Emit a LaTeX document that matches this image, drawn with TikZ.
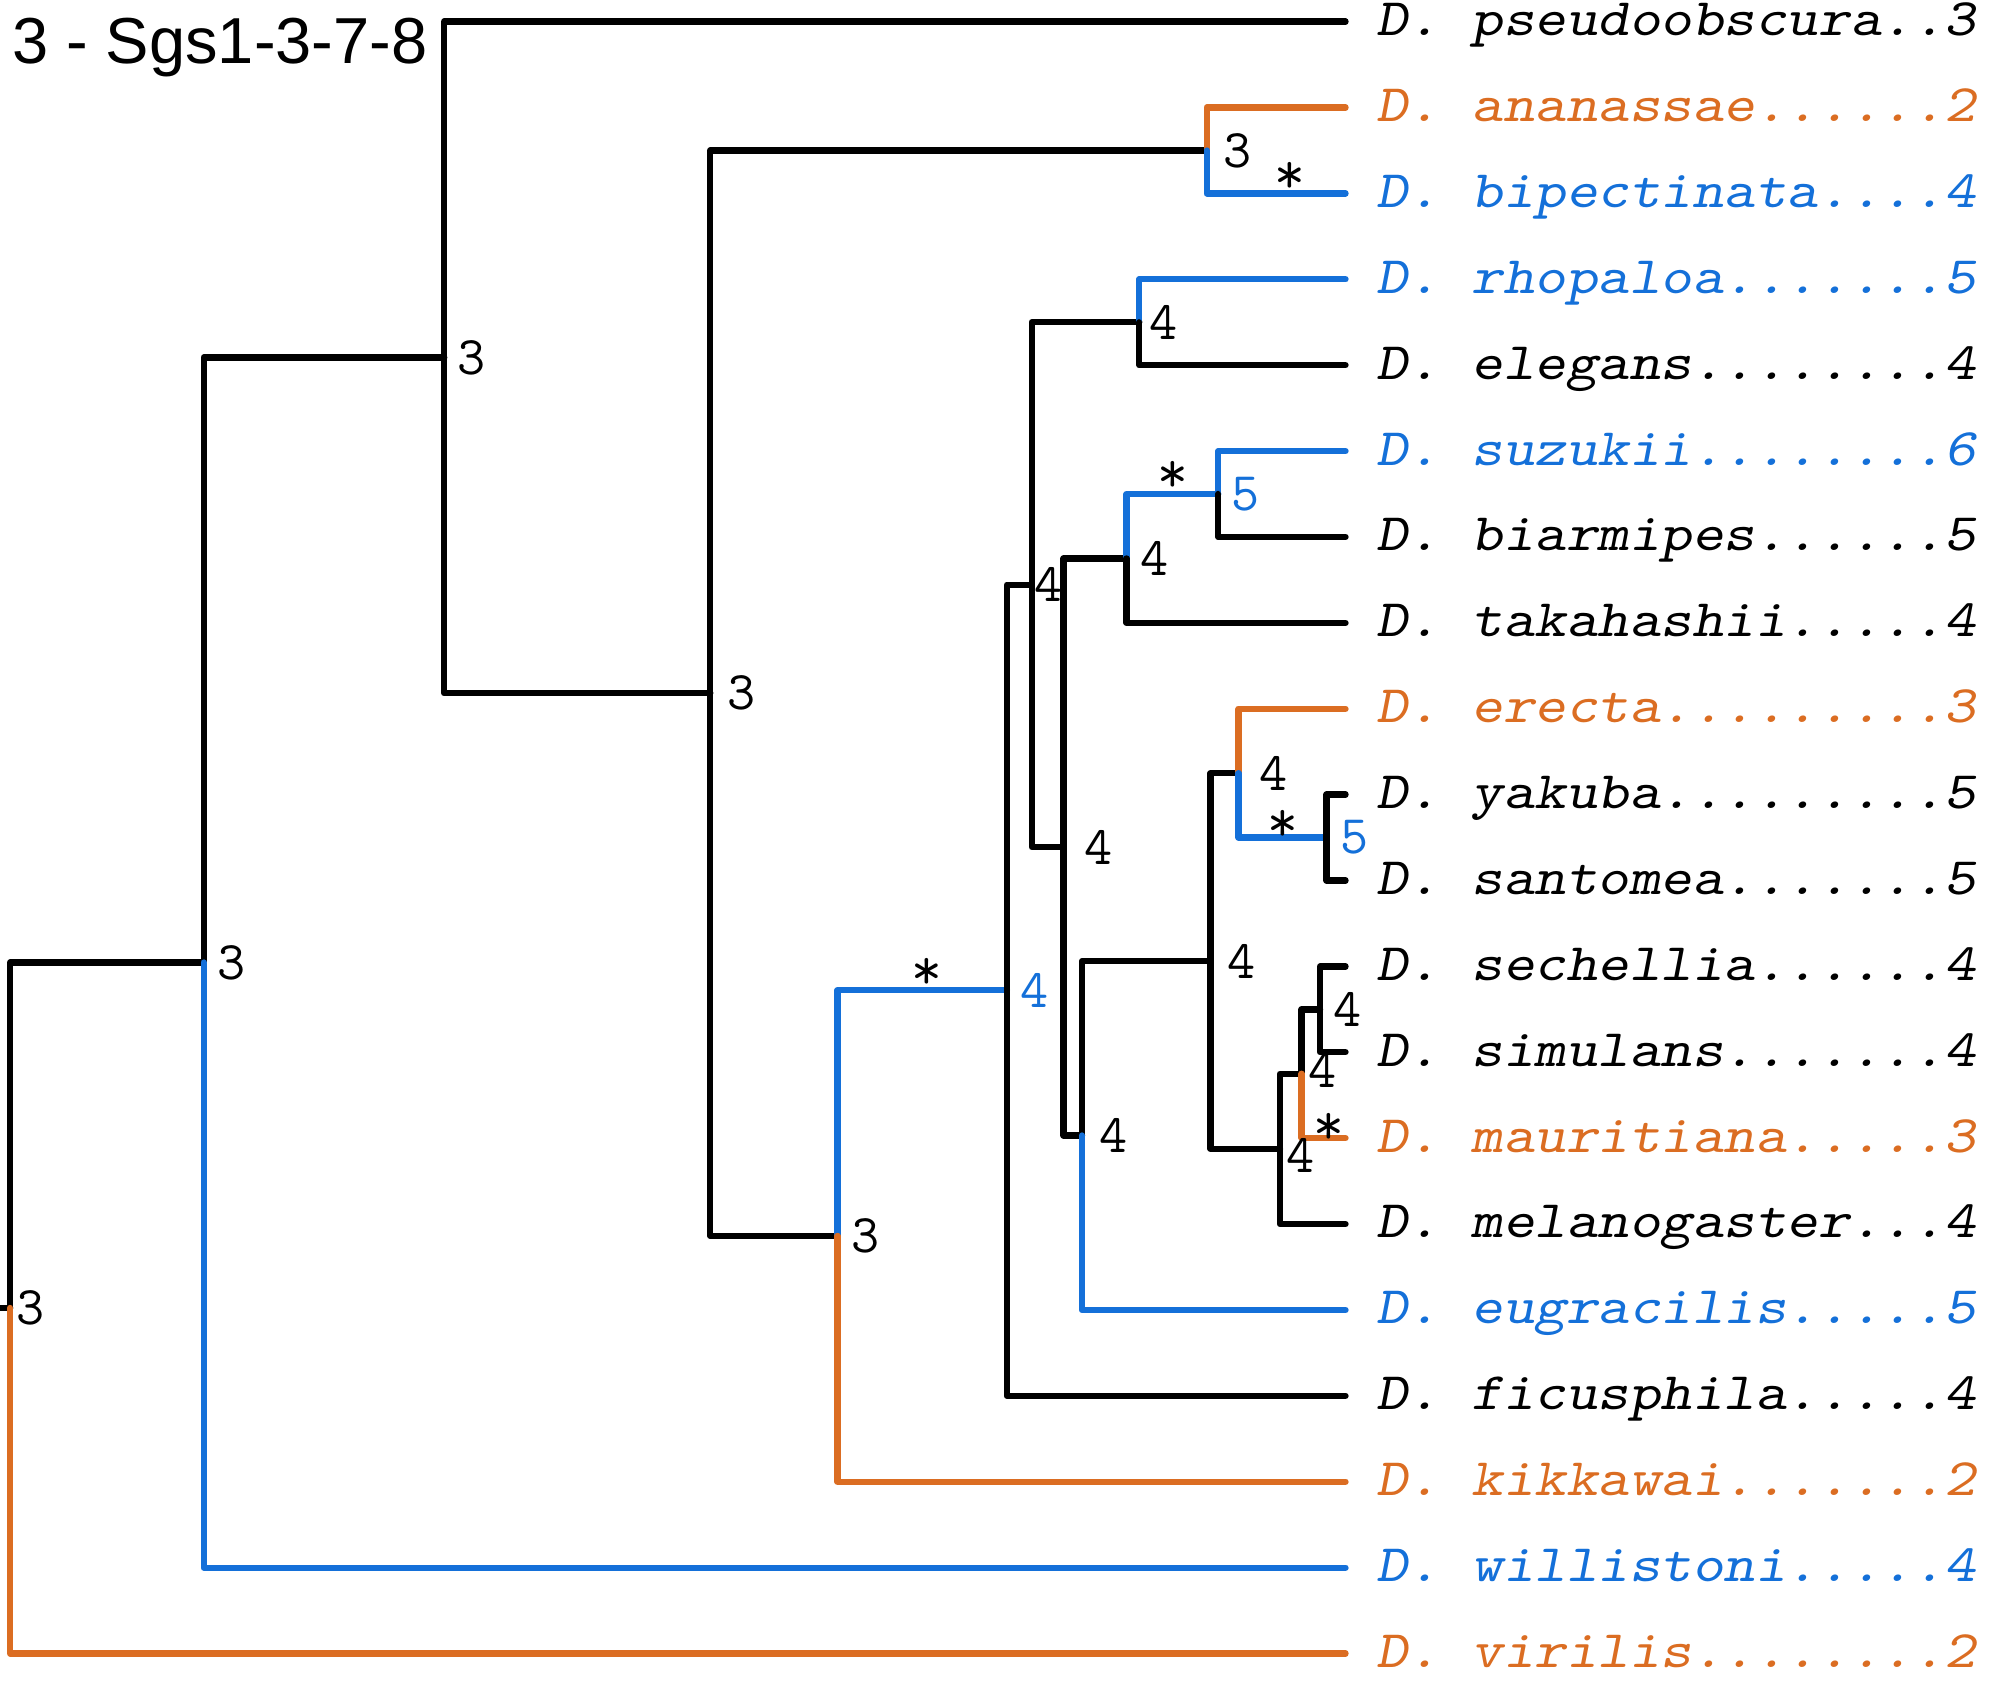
\documentclass[tikz,border=0pt]{standalone}
\usepackage{fontspec}
\usepackage{graphicx}
\usetikzlibrary{positioning}
\newfontfamily\titlefont{Liberation Sans}
\definecolor{orng}{RGB}{219,109,34}
\definecolor{blu}{RGB}{20,112,217}
\newcommand{\lbl}[1]{\scalebox{1.14}[1]{#1}}

\begin{document}
\begin{tikzpicture}[x=0.1273mm,y=-0.1273mm,line width=1.8pt,line cap=round,line join=round,
	every edge/.style={draw,to path={|- (\tikztotarget)}},
	bro/.style={draw=orng},brb/.style={draw=blu},
	leaf/.style={anchor=mid west,yshift=-1.8pt,inner sep=0pt,font=\fontsize{15}{17}\selectfont\ttfamily\slshape},
	num/.style={anchor=west,inner sep=0pt,font=\fontsize{15.5}{17}\selectfont\ttfamily},
	star/.style={inner sep=0pt,font=\fontsize{17}{19}\selectfont\ttfamily}]
	\useasboundingbox (0,0) rectangle (1568,1324);
	\node[anchor=base west,inner sep=0pt,font=\titlefont\fontsize{18.5}{22}\selectfont] (title) at (7,49.5) {3 - Sgs1-3-7-8};
	% leaves
	\coordinate (pse) at (1057,17);
	\coordinate (ana) at (1057,84.5);
	\coordinate (bip) at (1057,151.9);
	\coordinate (rho) at (1057,219.4);
	\coordinate (ele) at (1057,286.9);
	\coordinate (suz) at (1057,354.4);
	\coordinate (bia) at (1057,421.8);
	\coordinate (tak) at (1057,489.3);
	\coordinate (ere) at (1057,556.8);
	\coordinate (yak) at (1057,624.2);
	\coordinate (san) at (1057,691.7);
	\coordinate (sec) at (1057,759.2);
	\coordinate (sim) at (1057,826.6);
	\coordinate (mau) at (1057,894.1);
	\coordinate (mel) at (1057,961.6);
	\coordinate (eug) at (1057,1029.1);
	\coordinate (fic) at (1057,1096.5);
	\coordinate (kik) at (1057,1164);
	\coordinate (wil) at (1057,1231.5);
	\coordinate (vir) at (1057,1298.9);
	% inner nodes
	\coordinate (stub) at (0,1027.5);
	\coordinate (root) at (8,1027.5);
	\coordinate (nA) at (160,756.1);
	\coordinate (nB) at (349,280.8);
	\coordinate (nC) at (558,544.6);
	\coordinate (nD) at (948,118.2);
	\coordinate (nE) at (658,970.9);
	\coordinate (nF) at (791,777.9);
	\coordinate (nG) at (810.5,459.3);
	\coordinate (nH) at (895,253.2);
	\coordinate (nI) at (835.5,665.4);
	\coordinate (nJ) at (885,438.7);
	\coordinate (nL) at (957,388.1);
	\coordinate (nK) at (850,892);
	\coordinate (nM) at (951,755);
	\coordinate (nN) at (973,607.4);
	\coordinate (nP) at (1042,658);
	\coordinate (nO) at (1005.5,902.5);
	\coordinate (nR) at (1022.5,843.5);
	\coordinate (nQ) at (1037,792.9);
	\draw (stub) -- (root);
	\path
		(root) edge (nA)
		(root) edge[bro] (vir)
		(nA) edge (nB)
		(nA) edge[brb] (wil)
		(nB) edge (pse)
		(nB) edge (nC)
		(nC) edge (nD)
		(nC) edge (nE)
		(nD) edge[bro] (ana)
		(nD) edge[brb] (bip)
		(nE) edge[brb] (nF)
		(nE) edge[bro] (kik)
		(nF) edge (nG)
		(nF) edge (fic)
		(nG) edge (nH)
		(nG) edge (nI)
		(nH) edge[brb] (rho)
		(nH) edge (ele)
		(nI) edge (nJ)
		(nI) edge (nK)
		(nJ) edge[brb] (nL)
		(nJ) edge (tak)
		(nL) edge[brb] (suz)
		(nL) edge (bia)
		(nK) edge (nM)
		(nK) edge[brb] (eug)
		(nM) edge (nN)
		(nM) edge (nO)
		(nN) edge[bro] (ere)
		(nN) edge[brb] (nP)
		(nP) edge (yak)
		(nP) edge (san)
		(nO) edge (nR)
		(nO) edge (mel)
		(nR) edge (nQ)
		(nR) edge[bro] (mau)
		(nQ) edge (sec)
		(nQ) edge (sim);
	% node values
	\node[num,right=1pt of root] (lroot) {3};
	\node[num,right=3pt of nA] (lA) {3};
	\node[num,right=3pt of nB] (lB) {3};
	\node[num,right=4pt of nC] (lC) {3};
	\node[num,right=4pt of nD] (lD) {3};
	\node[num,right=3pt of nE] (lE) {3};
	\node[num,right=3pt of nF,text=blu] (lF) {4};
	\node[num,right=0pt of nG] (lG) {4};
	\node[num,right=2pt of nH] (lH) {4};
	\node[num,right=5pt of nI] (lI) {4};
	\node[num,right=3pt of nJ] (lJ) {4};
	\node[num,right=3pt of nL,text=blu] (lL) {5};
	\node[num,right=4pt of nK] (lK) {4};
	\node[num,right=4pt of nM] (lM) {4};
	\node[num,right=5pt of nN] (lN) {4};
	\node[num,right=3pt of nP,text=blu] (lP) {5};
	\node[num,right=3pt of nQ] (lQ) {4};
	\node[num,right=1pt of nR,yshift=0.8pt] (lR) {4};
	\node[num,right=1pt of nO,yshift=-2pt] (lO) {4};
	\node[star] (sD) at (1013,140) {*};
	\node[star] (sL) at (921,375) {*};
	\node[star] (sF) at (728,765) {*};
	\node[star] (sP) at (1008,649) {*};
	\node[star] (sR) at (1044,887) {*};
	% species
	\node[right=8pt of pse,leaf] (Lpse) {\lbl{D. pseudoobscura..3}};
	\node[right=8pt of ana,leaf,text=orng] (Lana) {\lbl{D. ananassae......2}};
	\node[right=8pt of bip,leaf,text=blu] (Lbip) {\lbl{D. bipectinata....4}};
	\node[right=8pt of rho,leaf,text=blu] (Lrho) {\lbl{D. rhopaloa.......5}};
	\node[right=8pt of ele,leaf] (Lele) {\lbl{D. elegans........4}};
	\node[right=8pt of suz,leaf,text=blu] (Lsuz) {\lbl{D. suzukii........6}};
	\node[right=8pt of bia,leaf] (Lbia) {\lbl{D. biarmipes......5}};
	\node[right=8pt of tak,leaf] (Ltak) {\lbl{D. takahashii.....4}};
	\node[right=8pt of ere,leaf,text=orng] (Lere) {\lbl{D. erecta.........3}};
	\node[right=8pt of yak,leaf] (Lyak) {\lbl{D. yakuba.........5}};
	\node[right=8pt of san,leaf] (Lsan) {\lbl{D. santomea.......5}};
	\node[right=8pt of sec,leaf] (Lsec) {\lbl{D. sechellia......4}};
	\node[right=8pt of sim,leaf] (Lsim) {\lbl{D. simulans.......4}};
	\node[right=8pt of mau,leaf,text=orng] (Lmau) {\lbl{D. mauritiana.....3}};
	\node[right=8pt of mel,leaf] (Lmel) {\lbl{D. melanogaster...4}};
	\node[right=8pt of eug,leaf,text=blu] (Leug) {\lbl{D. eugracilis.....5}};
	\node[right=8pt of fic,leaf] (Lfic) {\lbl{D. ficusphila.....4}};
	\node[right=8pt of kik,leaf,text=orng] (Lkik) {\lbl{D. kikkawai.......2}};
	\node[right=8pt of wil,leaf,text=blu] (Lwil) {\lbl{D. willistoni.....4}};
	\node[right=8pt of vir,leaf,text=orng] (Lvir) {\lbl{D. virilis........2}};
\end{tikzpicture}
\end{document}
